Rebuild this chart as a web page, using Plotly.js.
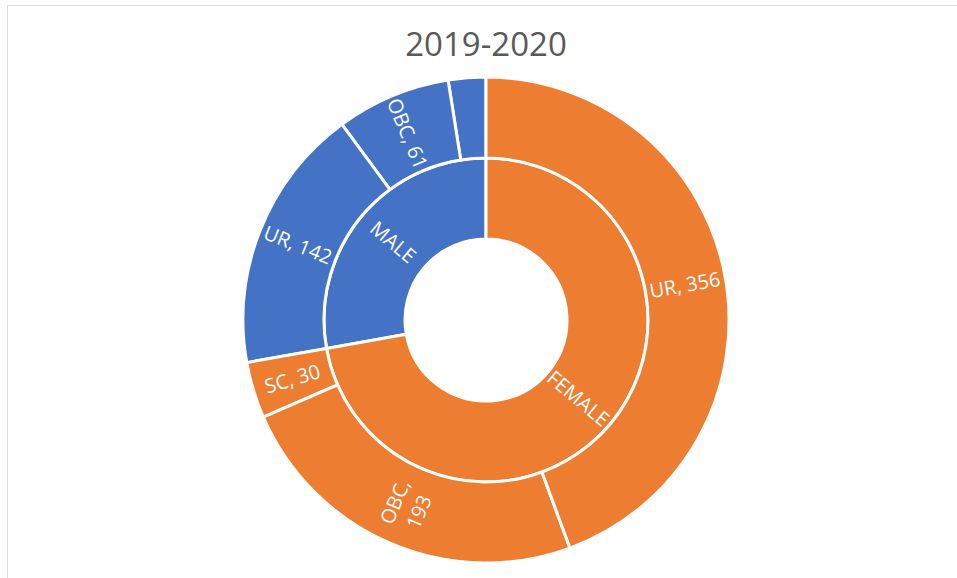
<!DOCTYPE html>
<html>
<head>
<meta charset="utf-8">
<script src="https://cdn.plot.ly/plotly-3.0.1.min.js"></script>
<style>html,body{margin:0;padding:0;background:#fff;}#chart{width:957px;height:578px;}</style>
</head>
<body>
<div id="chart"></div>
<script>
// Data (counter-clockwise drawing order)
const genders = ['MALE', 'FEMALE'];
const categories = ['SC', 'OBC', 'UR'];
const maleValues = [20, 61, 142];
const femaleValues = [30, 193, 356];
const maleLabels = ['', 'OBC, 61', 'UR, 142'];
const femaleLabels = ['SC, 30', 'OBC,<br>193', 'UR, 356'];
const genderColors = {MALE: '#4472C4', FEMALE: '#ED7D31'};

const ids = [], labels = [], parents = [], values = [], colors = [];
const sum = a => a.reduce((s, v) => s + v, 0);
const total = sum(maleValues) + sum(femaleValues);
ids.push('root'); labels.push(''); parents.push(''); values.push(total); colors.push('#FFFFFF');
const series = {MALE: [maleValues, maleLabels], FEMALE: [femaleValues, femaleLabels]};

// Label annotations placed at slice middles (computed from the values), radial orientation
const annotations = [];
const L = 243, R = 228, T = 77, B = 15;
const W = 957 - L - R, H = 578 - T - B;
const labelFont = {family: 'Open Sans, sans-serif', size: 20, color: '#FFFFFF'};
function addLabel(text, startVal, val, ringFrac) {
  if (!text) return;
  // counter-clockwise from 12 o'clock => clockwise screen angle from top
  const ccw = (startVal + val / 2) / total * 360;
  const theta = 360 - ccw;
  const rad = theta * Math.PI / 180;
  const r = ringFrac * 0.5;
  const angle = theta < 180 ? theta - 90 : theta - 270;
  annotations.push({
    xref: 'paper', yref: 'paper', showarrow: false,
    x: 0.5 + r * Math.sin(rad), y: 0.5 + r * Math.cos(rad),
    xanchor: 'center', yanchor: 'middle', align: 'center',
    text: text, textangle: angle, font: labelFont
  });
}

let gStart = 0;
genders.forEach(g => {
  const [vals, labs] = series[g];
  ids.push(g); labels.push(g); parents.push('root'); values.push(sum(vals)); colors.push(genderColors[g]);
  addLabel(g, gStart, sum(vals), 3 / 6);
  let cStart = gStart;
  categories.forEach((c, i) => {
    ids.push(g + '-' + c); labels.push(c); parents.push(g); values.push(vals[i]); colors.push(genderColors[g]);
    addLabel(labs[i], cStart, vals[i], 5 / 6);
    cStart += vals[i];
  });
  gStart += sum(vals);
});

const trace = {
  type: 'sunburst',
  ids: ids, labels: labels, parents: parents, values: values,
  textinfo: 'none',
  branchvalues: 'total', sort: false, rotation: 90,
  leaf: {opacity: 1},
  marker: {colors: colors, line: {color: '#FFFFFF', width: 3}},
  hoverinfo: 'none'
};

const px2x = p => (p - L) / W;
const py2y = p => (578 - B - p) / H;

const layout = {
  width: 957, height: 578,
  margin: {l: L, r: R, t: T, b: B},
  paper_bgcolor: '#FFFFFF',
  title: {text: '2019-2020', font: {family: 'Open Sans, sans-serif', size: 33, color: '#595959'},
          x: 0.5, xref: 'paper', y: 1 - 44 / 578, yanchor: 'middle'},
  showlegend: false,
  annotations: annotations,
  shapes: [
    {type: 'line', xref: 'paper', yref: 'paper', x0: px2x(7), x1: px2x(957), y0: py2y(5.5), y1: py2y(5.5), line: {color: '#D9D9D9', width: 1}},
    {type: 'line', xref: 'paper', yref: 'paper', x0: px2x(7.5), x1: px2x(7.5), y0: py2y(5), y1: py2y(580), line: {color: '#D9D9D9', width: 1}}
  ]
};

Plotly.newPlot('chart', [trace], layout, {displayModeBar: false, staticPlot: true});
</script>
</body>
</html>
